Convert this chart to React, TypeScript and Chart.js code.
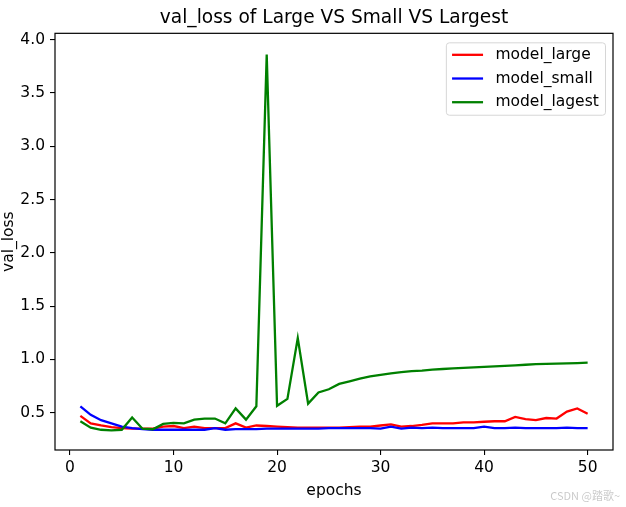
import { useEffect, useRef } from 'react';
import { Chart, registerables } from 'chart.js';

Chart.register(...registerables);

const FONT = '"DejaVu Sans", sans-serif';

const chartTitle = 'val_loss of Large VS Small VS Largest';
const seriesNames = ['model_large', 'model_small', 'model_lagest'];
const seriesColors = ['#ff0000', '#0000ff', '#008000'];

const epochs = [
  1, 2, 3, 4, 5, 6, 7, 8, 9, 10,
  11, 12, 13, 14, 15, 16, 17, 18, 19, 20,
  21, 22, 23, 24, 25, 26, 27, 28, 29, 30,
  31, 32, 33, 34, 35, 36, 37, 38, 39, 40,
  41, 42, 43, 44, 45, 46, 47, 48, 49, 50,
];

const modelLarge = [
  0.47, 0.40, 0.38, 0.365, 0.355, 0.35, 0.35, 0.35, 0.37, 0.375,
  0.355, 0.37, 0.355, 0.355, 0.355, 0.40, 0.36, 0.38, 0.375, 0.37,
  0.365, 0.36, 0.36, 0.36, 0.36, 0.36, 0.365, 0.37, 0.37, 0.38,
  0.39, 0.37, 0.375, 0.385, 0.40, 0.40, 0.40, 0.41, 0.41, 0.415,
  0.42, 0.42, 0.46, 0.44, 0.43, 0.45, 0.445, 0.51, 0.54, 0.49,
];

const modelSmall = [
  0.56, 0.48, 0.43, 0.40, 0.37, 0.355, 0.345, 0.34, 0.34, 0.34,
  0.34, 0.34, 0.34, 0.355, 0.34, 0.345, 0.345, 0.345, 0.35, 0.35,
  0.35, 0.35, 0.35, 0.35, 0.355, 0.355, 0.355, 0.355, 0.355, 0.35,
  0.37, 0.35, 0.36, 0.355, 0.36, 0.355, 0.355, 0.355, 0.355, 0.37,
  0.355, 0.355, 0.36, 0.355, 0.355, 0.355, 0.355, 0.36, 0.355, 0.355,
];

const modelLagest = [
  0.42, 0.36, 0.34, 0.335, 0.34, 0.455, 0.35, 0.345, 0.395, 0.405,
  0.40, 0.435, 0.445, 0.445, 0.40, 0.54, 0.435, 0.56, 3.86, 0.565,
  0.63, 1.20, 0.585, 0.69, 0.72, 0.77, 0.795, 0.82, 0.84, 0.855,
  0.87, 0.88, 0.89, 0.895, 0.905, 0.91, 0.915, 0.92, 0.925, 0.93,
  0.935, 0.94, 0.945, 0.95, 0.955, 0.958, 0.96, 0.962, 0.965, 0.97,
];

const xTicks = [0, 10, 20, 30, 40, 50];
const yTicks = [0.5, 1.0, 1.5, 2.0, 2.5, 3.0, 3.5, 4.0];

const watermark = 'CSDN @踏歌~';

// matplotlib-style box around the axes
const framePlugin = {
  id: 'frame',
  afterDraw(chart) {
    const { ctx, chartArea: a } = chart;
    ctx.save();
    ctx.strokeStyle = '#000';
    ctx.lineWidth = 1.2;
    ctx.strokeRect(a.left, a.top, a.right - a.left, a.bottom - a.top);
    ctx.restore();
  },
};

const legendPlugin = {
  id: 'mplLegend',
  afterDraw(chart) {
    const { ctx, chartArea: a } = chart;
    const sets = chart.data.datasets;
    ctx.save();
    ctx.font = `15.5px ${FONT}`;
    const textW = Math.max(...sets.map((d) => ctx.measureText(d.label).width));
    const pad = 6.2;
    const handle = 31;
    const gap = 12.4;
    const rowH = 23.7;
    const w = pad * 2 + handle + gap + textW;
    const h = 25 + rowH * (sets.length - 1);
    const right = a.right - 8;
    const top = a.top + 9;
    const left = right - w;

    ctx.beginPath();
    ctx.roundRect(left + 0.5, top + 0.5, w, h, 3);
    ctx.fillStyle = 'rgba(255,255,255,0.8)';
    ctx.fill();
    ctx.strokeStyle = '#d6d6d6';
    ctx.lineWidth = 1;
    ctx.stroke();

    sets.forEach((d, i) => {
      const y = top + 12.5 + i * rowH;
      ctx.beginPath();
      ctx.moveTo(left + pad, y);
      ctx.lineTo(left + pad + handle, y);
      ctx.strokeStyle = d.borderColor;
      ctx.lineWidth = 2.3;
      ctx.stroke();
      ctx.fillStyle = '#000';
      ctx.textBaseline = 'middle';
      ctx.textAlign = 'left';
      ctx.fillText(d.label, left + pad + handle + gap, y);
    });
    ctx.restore();
  },
};

const watermarkPlugin = {
  id: 'watermark',
  afterDraw(chart) {
    const { ctx } = chart;
    ctx.save();
    ctx.font = '11px "Noto Sans CJK SC", sans-serif';
    ctx.fillStyle = 'rgba(0,0,0,0.22)';
    ctx.textAlign = 'right';
    ctx.textBaseline = 'middle';
    ctx.fillText(watermark, 620, 496);
    ctx.restore();
  },
};

const tickFont = { family: FONT, size: 15.5 };

const ValLossChart = () => {
  const canvasRef = useRef(null);
  const chartRef = useRef(null);

  useEffect(() => {
    document.body.style.margin = '0';
    if (chartRef.current) chartRef.current.destroy();

    const toPoints = (vals) => epochs.map((e, i) => ({ x: e, y: vals[i] }));
    const values = [modelLarge, modelSmall, modelLagest];

    chartRef.current = new Chart(canvasRef.current, {
      type: 'line',
      data: {
        datasets: values.map((vals, i) => ({
          label: seriesNames[i],
          data: toPoints(vals),
          borderColor: seriesColors[i],
          backgroundColor: seriesColors[i],
          borderWidth: 2.3,
          pointRadius: 0,
          tension: 0,
          fill: false,
          order: values.length - 1 - i,
        })),
      },
      options: {
        animation: false,
        responsive: false,
        layout: { padding: { left: 0, right: 13, top: 0, bottom: 0 } },
        plugins: {
          legend: { display: false },
          tooltip: { enabled: false },
          title: {
            display: true,
            text: chartTitle,
            fullSize: false,
            color: '#000',
            font: { family: FONT, size: 18.6, weight: 'normal', lineHeight: 1.2 },
            padding: { top: 7, bottom: 4 },
          },
        },
        scales: {
          x: {
            type: 'linear',
            min: -1.45,
            max: 52.45,
            afterFit: (s) => { s.height = 57; },
            afterBuildTicks: (s) => { s.ticks = xTicks.map((v) => ({ value: v })); },
            grid: { drawOnChartArea: false, drawTicks: true, tickLength: 5, color: '#000', lineWidth: 1.1 },
            border: { display: false },
            ticks: {
              color: '#000',
              font: tickFont,
              padding: 4,
              maxRotation: 0,
              autoSkip: false,
              callback: (v) => String(v),
            },
            title: {
              display: true,
              text: 'epochs',
              color: '#000',
              font: tickFont,
              padding: { top: 0, bottom: 7 },
            },
          },
          y: {
            type: 'linear',
            min: 0.15,
            max: 4.06,
            afterFit: (s) => { s.width = 55; },
            afterBuildTicks: (s) => { s.ticks = yTicks.map((v) => ({ value: v })); },
            grid: { drawOnChartArea: false, drawTicks: true, tickLength: 5, color: '#000', lineWidth: 1.1 },
            border: { display: false },
            ticks: {
              color: '#000',
              font: tickFont,
              padding: 5,
              autoSkip: false,
              callback: (v) => Number(v).toFixed(1),
            },
            title: {
              display: true,
              text: 'val_loss',
              color: '#000',
              font: { ...tickFont, lineHeight: 1.1 },
              padding: { top: 0, bottom: 0 },
            },
          },
        },
      },
      plugins: [framePlugin, legendPlugin, watermarkPlugin],
    });

    return () => {
      if (chartRef.current) {
        chartRef.current.destroy();
        chartRef.current = null;
      }
    };
  }, []);

  return (
    <div style={{ width: 626, height: 507, background: '#fff' }}>
      <canvas ref={canvasRef} width={626} height={507}></canvas>
    </div>
  );
};

export default function App() {
  return <ValLossChart />;
}
